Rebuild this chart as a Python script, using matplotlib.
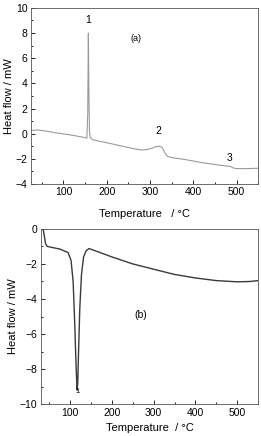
import matplotlib
matplotlib.use("Agg")
import matplotlib.pyplot as plt
from matplotlib.ticker import MultipleLocator

plt.rcParams["font.family"] = ["Liberation Sans", "DejaVu Sans"]

# (a) heating curve
temp_a = [25, 40, 60, 80, 100, 120, 140, 150, 154, 156, 157.5, 158.5, 160, 162, 166, 170,
          200, 230, 260, 280, 295, 305, 315, 322, 328, 334, 340, 350, 380, 420, 450,
          470, 480, 486, 492, 500, 520, 550]
flow_a = [0.25, 0.3, 0.2, 0.08, -0.02, -0.12, -0.25, -0.32, -0.35, 1.5, 8.0, 4.0, 0.2,
          -0.3, -0.45, -0.5, -0.72, -0.95, -1.18, -1.3, -1.25, -1.15, -1.02, -1.0, -1.1,
          -1.5, -1.8, -1.9, -2.05, -2.3, -2.45, -2.55, -2.58, -2.6, -2.72, -2.78, -2.78, -2.75]

# (b) second curve
temp_b = [35, 38, 41, 45, 55, 75, 95, 102, 107, 111, 114, 116.5, 118, 120, 123, 127,
          132, 138, 145, 160, 200, 250, 300, 350, 400, 450, 500, 530, 550]
flow_b = [0.0, -0.4, -0.85, -1.0, -1.05, -1.15, -1.35, -1.8, -3.0, -5.5, -7.8, -9.2,
          -8.8, -7.0, -4.5, -2.6, -1.6, -1.25, -1.12, -1.25, -1.6, -2.0, -2.3, -2.6,
          -2.8, -2.95, -3.02, -3.0, -2.95]

fig = plt.figure(figsize=(2.61, 4.36), dpi=100)
ax_a = fig.add_axes([0.119, 0.578, 0.870, 0.404])
ax_b = fig.add_axes([0.157, 0.073, 0.832, 0.402])

ax_a.plot(temp_a, flow_a, color="#9a9a9a", lw=0.8)
ax_a.set_xlim(25, 550)
ax_a.set_ylim(-4, 10)
ax_a.xaxis.set_major_locator(MultipleLocator(100))
ax_a.xaxis.set_minor_locator(MultipleLocator(50))
ax_a.yaxis.set_major_locator(MultipleLocator(2))
ax_a.yaxis.set_minor_locator(MultipleLocator(1))
ax_a.text(157, 8.6, "1", ha="center", va="bottom", fontsize=7.5)
ax_a.text(320, -0.2, "2", ha="center", va="bottom", fontsize=7.5)
ax_a.text(483, -2.3, "3", ha="center", va="bottom", fontsize=7.5)
ax_a.text(268, 7.6, "(a)", ha="center", va="center", fontsize=6.5)
ax_a.set_xlabel("Temperature   / \u00b0C", fontsize=8, labelpad=8)
ax_a.set_ylabel("Heat flow / mW", fontsize=8, labelpad=1)

ax_b.plot(temp_b, flow_b, color="#3a3a3a", lw=1.0)
ax_b.set_xlim(30, 550)
ax_b.set_ylim(-10, 0)
ax_b.xaxis.set_major_locator(MultipleLocator(100))
ax_b.xaxis.set_minor_locator(MultipleLocator(50))
ax_b.yaxis.set_major_locator(MultipleLocator(2))
ax_b.yaxis.set_minor_locator(MultipleLocator(1))
ax_b.text(118, -9.5, "1", ha="center", va="bottom", fontsize=5.5)
ax_b.text(270, -4.9, "(b)", ha="center", va="center", fontsize=7.5)
ax_b.set_xlabel("Temperature  / \u00b0C", fontsize=8, labelpad=4)
ax_b.set_ylabel("Heat flow / mW", fontsize=8, labelpad=1)

for ax in (ax_a, ax_b):
    ax.tick_params(which="both", direction="in", labelsize=7.5, width=0.6, pad=2.5)
    ax.tick_params(which="major", length=3)
    ax.tick_params(which="minor", length=1.5)
    for s in ax.spines.values():
        s.set_linewidth(0.6)
        s.set_color("#555555")

fig.savefig("out.png", dpi=100)
